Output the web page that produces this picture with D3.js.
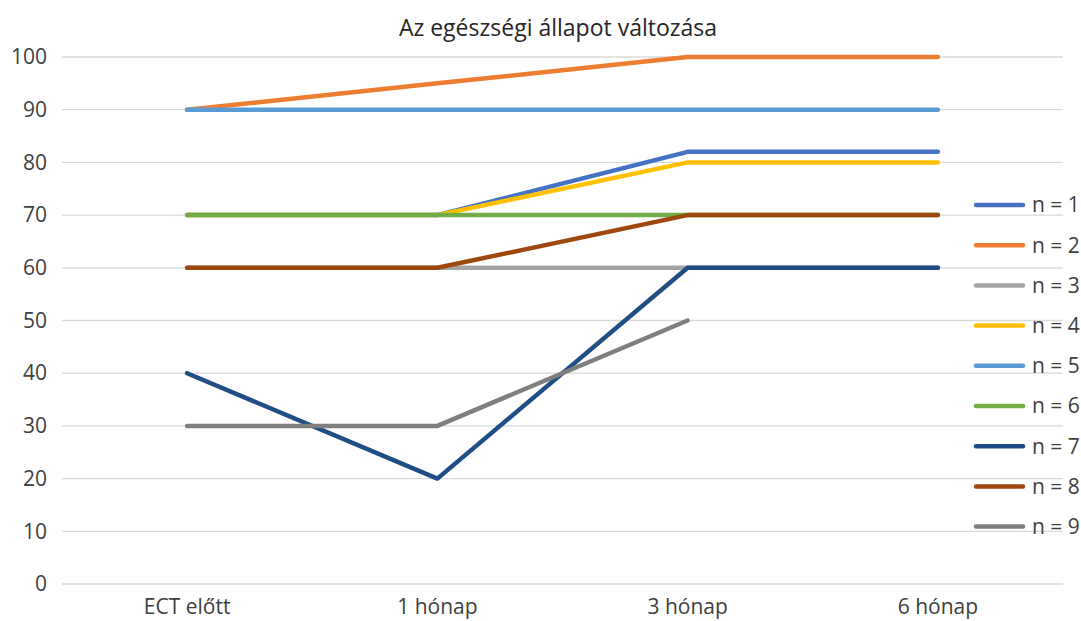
<!DOCTYPE html>
<meta charset="utf-8">
<style>
body { margin: 0; background: #fff; }
svg text { font-family: "Open Sans", sans-serif; }
.grid line { stroke: #d9d9d9; stroke-width: 1.3; }
</style>
<body>
<script src="https://d3js.org/d3.v7.min.js"></script>
<script>

var categories = ["ECT előtt", "1 hónap", "3 hónap", "6 hónap"];
var seriesNames = ["n = 1", "n = 2", "n = 3", "n = 4", "n = 5", "n = 6", "n = 7", "n = 8", "n = 9"];
var colors = ["#4472C4", "#ED7D31", "#A5A5A5", "#FFC000", "#5B9BD5", "#70AD47", "#1F4E84", "#9E480E", "#7F7F7F"];

var n1 = [70, 70, 82, 82];
var n2 = [90, 95, 100, 100];
var n3 = [60, 60, 60, 60];
var n4 = [70, 70, 80, 80];
var n5 = [90, 90, 90, 90];
var n6 = [70, 70, 70, 70];
var n7 = [40, 20, 60, 60];
var n8 = [60, 60, 70, 70];
var n9 = [30, 30, 50, null];
var yTicks = [0, 10, 20, 30, 40, 50, 60, 70, 80, 90, 100];

var series = [n1, n2, n3, n4, n5, n6, n7, n8, n9];

var width = 1081, height = 621;

var svg = d3.select("body").append("svg")
    .attr("width", width)
    .attr("height", height);

var x = d3.scaleBand()
    .domain(categories)
    .range([62, 1063]);

var y = d3.scaleLinear()
    .domain([0, 100])
    .range([584, 57]);

// horizontal gridlines
svg.append("g")
    .attr("class", "grid")
  .selectAll("line")
  .data(yTicks)
  .enter().append("line")
    .attr("x1", x.range()[0])
    .attr("x2", x.range()[1])
    .attr("y1", function(d) { return y(d); })
    .attr("y2", function(d) { return y(d); });

// y labels
var yAxis = svg.append("g")
    .attr("transform", "translate(62,0)")
    .call(d3.axisLeft(y).tickValues(yTicks).tickSize(0).tickPadding(15));
yAxis.select(".domain").remove();
yAxis.selectAll("text")
    .style("font-family", "'Open Sans', sans-serif")
    .style("font-size", "21px")
    .style("fill", "#404040");

// x labels
var xAxis = svg.append("g")
    .attr("transform", "translate(0,584)")
    .call(d3.axisBottom(x).tickSize(0).tickPadding(15));
xAxis.select(".domain").remove();
xAxis.selectAll("text")
    .style("font-family", "'Open Sans', sans-serif")
    .style("font-size", "21px")
    .style("fill", "#404040");

var line = d3.line()
    .defined(function(d) { return d != null; })
    .x(function(d, i) { return x(categories[i]) + x.bandwidth() / 2; })
    .y(function(d) { return y(d); });

svg.append("g")
  .selectAll("path")
  .data(series)
  .enter().append("path")
    .attr("fill", "none")
    .attr("stroke", function(d, i) { return colors[i]; })
    .attr("stroke-width", 4.5)
    .attr("stroke-linejoin", "round")
    .attr("stroke-linecap", "round")
    .attr("d", line);

svg.append("text")
    .attr("x", 558)
    .attr("y", 36)
    .attr("text-anchor", "middle")
    .style("font-size", "23px")
    .style("fill", "#262626")
    .text("Az egészségi állapot változása");

// legend
var legend = svg.append("g")
  .selectAll("g")
  .data(seriesNames)
  .enter().append("g")
    .attr("transform", function(d, i) { return "translate(0," + (205 + i * 40.2) + ")"; });

legend.append("line")
    .attr("x1", 976)
    .attr("x2", 1023)
    .attr("stroke", function(d, i) { return colors[i]; })
    .attr("stroke-width", 4.5)
    .attr("stroke-linecap", "round");

legend.append("text")
    .attr("x", 1032)
    .attr("dy", "0.35em")
    .style("font-size", "21px")
    .style("fill", "#404040")
    .text(function(d) { return d; });

</script>
</body>
